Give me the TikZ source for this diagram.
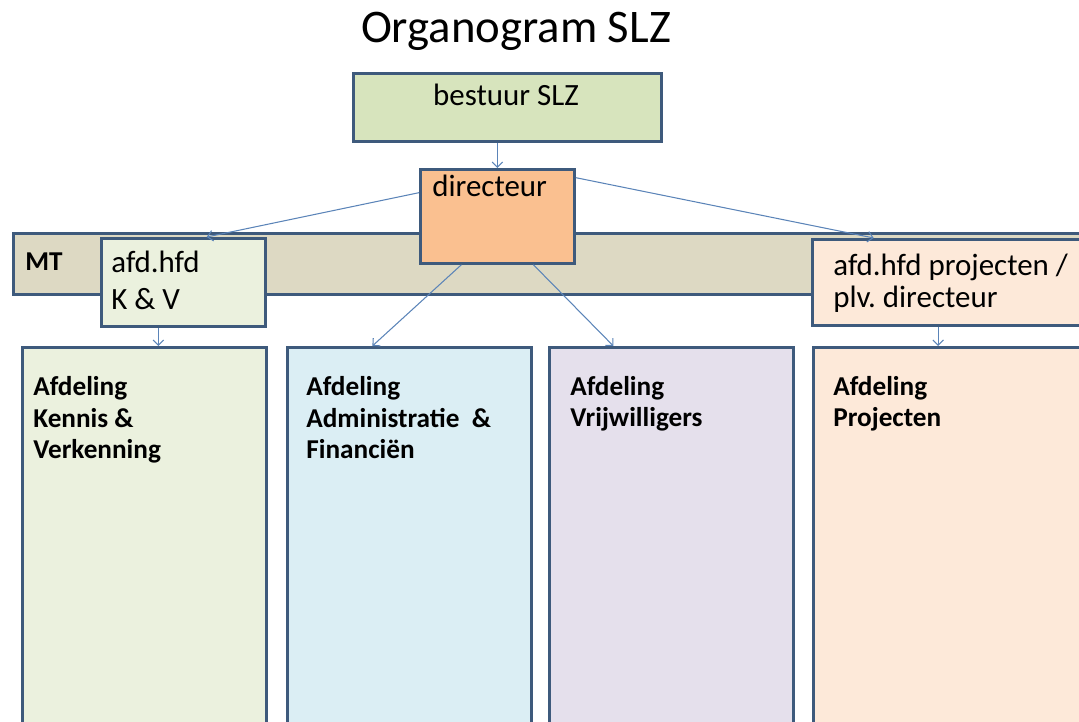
\documentclass[tikz,border=0pt]{standalone}
\usepackage{fontspec}
\setmainfont{Carlito}
\usetikzlibrary{calc,arrows.meta}

\definecolor{rand}{HTML}{3E5A7C}
\definecolor{pijl}{HTML}{5B84B8}
\definecolor{bestuurkl}{HTML}{D7E4BD}
\definecolor{dirkl}{HTML}{FAC090}
\definecolor{mtkl}{HTML}{DDD9C3}
\definecolor{groenkl}{HTML}{EBF1DE}
\definecolor{blauwkl}{HTML}{DBEEF4}
\definecolor{paarskl}{HTML}{E5E0EC}
\definecolor{oranjekl}{HTML}{FDE9D9}

\tikzset{
  box/.style={draw=rand, line width=1.6pt, anchor=north west, inner sep=0pt},
  txt/.style={anchor=base west, inner sep=0pt, align=left, font=\fontsize{17.6}{20}\selectfont},
  afd/.style={anchor=base west, inner sep=0pt, align=left, font=\bfseries\fontsize{15.5}{18}\selectfont},
  lijn/.style={pijl, line width=0.6pt, -{Straight Barb[length=3pt,width=6pt]}}
}

\begin{document}
\begin{tikzpicture}
  [x=0.02cm, y=-0.02cm]
  \useasboundingbox (0,0) rectangle (1079,722);
  \clip (0,0) rectangle (1079,722);

  \node[anchor=base, inner sep=0pt, font=\fontsize{26.6}{30}\selectfont] (titel) at (516,43) {Organogram SLZ};

  % bovenste laag
  \node[box, fill=bestuurkl, minimum width=6.16cm, minimum height=1.36cm] (bestuur) at (352,72) {};
  \node[txt, anchor=base] (bestuur-t) at (506,106) {bestuur SLZ};

  % MT balk
  \node[box, fill=mtkl, minimum width=21.76cm, minimum height=1.22cm] (mt) at (12,232) {};
  \node[afd] (mt-t) at (25,271) {MT};

  \node[box, fill=dirkl, minimum width=3.08cm, minimum height=1.88cm] (dir) at (419,168) {};
  \node[txt] (dir-t) at (432,197) {directeur};

  \node[box, fill=groenkl, minimum width=3.28cm, minimum height=1.76cm] (kv) at (100,237) {};
  \node[txt, font=\fontsize{17.6}{21.5}\selectfont] (kv-t) at (111,310) {afd.hfd\\K \& V};

  \node[box, fill=oranjekl, minimum width=5.78cm, minimum height=1.72cm] (ph) at (811,238) {};
  \node[txt, font=\fontsize{17.6}{18.5}\selectfont] (ph-t) at (833,308) {afd.hfd projecten /\\plv.\ directeur};

  % afdelingen
  \node[box, fill=groenkl, minimum width=4.88cm, minimum height=8.4cm] (kennis) at (21,346) {};
  \node[box, fill=blauwkl, minimum width=4.88cm, minimum height=8.4cm] (admin) at (286,346) {};
  \node[box, fill=paarskl, minimum width=4.88cm, minimum height=8.4cm] (vrijw) at (548,346) {};
  \node[box, fill=oranjekl, minimum width=5.76cm, minimum height=8.4cm] (proj) at (812,346) {};

  \node[afd] (kennis-t) at (33,459) {Afdeling\\Kennis \&\\Verkenning};
  \node[afd] (admin-t) at (306,459) {Afdeling\\Administratie ~\&\\Financiën};
  \node[afd] (vrijw-t) at (570,427) {Afdeling\\Vrijwilligers};
  \node[afd] (proj-t) at (833,427) {Afdeling\\Projecten};

  % pijlen
  \coordinate (a1) at (bestuur.south -| dir.north);
  \coordinate (b1) at (dir.north);
  \coordinate (a2) at ($(dir.north west)!0.255!(dir.south west)$);
  \coordinate (b2) at ($(kv.north west)!0.64!(kv.north east)$);
  \coordinate (a3) at ($(dir.north east)!0.1!(dir.south east)$);
  \coordinate (b3) at ($(ph.north west)!0.215!(ph.north east)$);
  \coordinate (a4) at ($(dir.south west)!0.27!(dir.south east)$);
  \coordinate (b4) at ($(admin.north west)!0.35!(admin.north east)$);
  \coordinate (a5) at ($(dir.south west)!0.73!(dir.south east)$);
  \coordinate (b5) at ($(vrijw.north west)!0.265!(vrijw.north east)$);
  \coordinate (a6) at ($(kv.south west)!0.35!(kv.south east)$);
  \coordinate (b6) at (a6 |- kennis.north);
  \coordinate (a7) at ($(ph.south west)!0.436!(ph.south east)$);
  \coordinate (b7) at (a7 |- proj.north);

  \foreach \from/\to in {a1/b1,a2/b2,a3/b3,a4/b4,a5/b5,a6/b6,a7/b7}
  \draw[lijn] (\from) -- (\to);
\end{tikzpicture}
\end{document}
